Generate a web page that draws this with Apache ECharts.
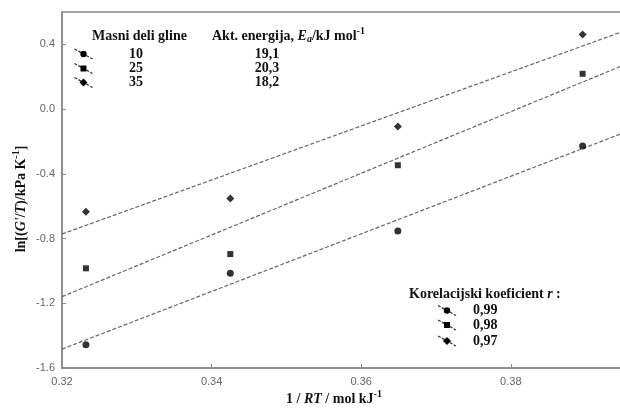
<!DOCTYPE html>
<html>
<head>
<meta charset="utf-8">
<script src="https://cdn.jsdelivr.net/npm/echarts@6/dist/echarts.min.js"></script>
<style>
html, body { margin: 0; padding: 0; background: #fff; }
#main { width: 620px; height: 412px; }
</style>
</head>
<body>
<div id="main"></div>
<script>
// 1/RT values of the four measurements
var xVals = [0.3232, 0.3425, 0.3649, 0.3896];
// ln[(G'/T)] for each clay mass fraction
var y10 = [-1.457, -1.015, -0.754, -0.228];
var y25 = [-0.984, -0.896, -0.347, 0.218];
var y35 = [-0.635, -0.552, -0.107, 0.461];
// fitted lines, read at both ends of the axis
var fitX = [0.32, 0.395];
var fit10 = [-1.483, -0.148];
var fit25 = [-1.159, 0.270];
var fit35 = [-0.772, 0.480];
// legend texts
var masses = ['10', '25', '35'];
var energies = ['19,1', '20,3', '18,2'];
var rValues = ['0,99', '0,98', '0,97'];

var chart = echarts.init(document.getElementById('main'));

function pairs(xs, ys) {
    return xs.map(function (x, i) { return [x, ys[i]]; });
}

var serif = 'Liberation Serif';
var symbols = ['circle', 'rect', 'diamond'];
var sizes = [7, 6, 8];

function fitLine(data) {
    return {
        type: 'line',
        data: pairs(fitX, data),
        symbol: 'none',
        silent: true,
        lineStyle: { color: '#666', width: 1.2, type: [4, 2] },
        z: 1
    };
}

function dots(data, i) {
    return {
        type: 'scatter',
        data: pairs(xVals, data),
        symbol: symbols[i],
        symbolSize: sizes[i],
        itemStyle: { color: '#000' },
        z: 3
    };
}

// legend marker: short dashed diagonal line with the symbol on it
function marker(cx, cy, i) {
    var els = [{
        type: 'line',
        shape: { x1: cx - 9, y1: cy - 5, x2: cx + 9, y2: cy + 5 },
        style: { stroke: '#333', lineWidth: 1.3, lineDash: [3, 1.5] }
    }];
    if (i === 0) {
        els.push({ type: 'circle', shape: { cx: cx, cy: cy, r: 3.2 }, style: { fill: '#000' } });
    } else if (i === 1) {
        els.push({ type: 'rect', shape: { x: cx - 3, y: cy - 3, width: 6, height: 6 }, style: { fill: '#000' } });
    } else {
        els.push({ type: 'polygon', shape: { points: [[cx, cy - 4], [cx + 4, cy], [cx, cy + 4], [cx - 4, cy]] }, style: { fill: '#000' } });
    }
    return els;
}

var richText = {
    n: { fontFamily: serif, fontWeight: 'bold', fontSize: 14, color: '#111' },
    i: { fontFamily: serif, fontWeight: 'bold', fontStyle: 'italic', fontSize: 14, color: '#111' },
    sub: { fontFamily: serif, fontWeight: 'bold', fontStyle: 'italic', fontSize: 10, color: '#111', padding: [7, 0, 0, 0] },
    s: { fontFamily: serif, fontWeight: 'bold', fontSize: 10, color: '#111', padding: [0, 0, 9, 0] }
};

function label(x, y, text, align, rot) {
    return {
        type: 'text',
        x: x, y: y,
        rotation: rot || 0,
        style: {
            text: text,
            font: 'bold 14px "' + serif + '"',
            fill: '#111',
            align: align || 'left',
            verticalAlign: 'middle',
            rich: richText
        }
    };
}

var graphics = [];
graphics.push(label(92, 36, 'Masni deli gline'));
graphics.push(label(212, 36, '{n|Akt. energija, }{i|E}{sub|a}{n|/kJ mol}{s|-1}'));
var rowsY = [54, 68.5, 82.5];
masses.forEach(function (m, i) {
    graphics = graphics.concat(marker(83.5, rowsY[i], i));
    graphics.push(label(136, rowsY[i], m, 'center'));
    graphics.push(label(267, rowsY[i], energies[i], 'center'));
});
graphics.push(label(409, 294, '{n|Korelacijski koeficient }{i|r}{n| :}'));
var rowsY2 = [310.5, 325, 341];
rValues.forEach(function (r, i) {
    graphics = graphics.concat(marker(447, rowsY2[i], i));
    graphics.push(label(473, rowsY2[i], r));
});
// axis titles
graphics.push(label(334, 399, '{n|1 / }{i|RT}{n| / mol kJ}{s|-1}', 'center'));
graphics.push(label(21, 199, '{n|ln[(}{i|G\'}{n|/}{i|T}{n|)/kPa K}{s|-1}{n|]}', 'center', Math.PI / 2));

var option = {
    backgroundColor: '#fff',
    animation: false,
    grid: {
        left: 62, right: -3, top: 12, bottom: 44,
        outerBoundsMode: 'none',
        show: true, borderColor: '#888', borderWidth: 1.5
    },
    xAxis: {
        type: 'value',
        min: 0.32, max: 0.395, interval: 0.02,
        axisLine: { onZero: false, lineStyle: { color: '#888', width: 1.5 } },
        axisTick: { inside: true, length: 4, lineStyle: { color: '#888' } },
        axisLabel: {
            showMaxLabel: false,
            margin: 8,
            color: '#666', fontFamily: 'Liberation Sans', fontSize: 11,
            formatter: function (v) { return v.toFixed(2); }
        },
        splitLine: { show: false }
    },
    yAxis: {
        type: 'value',
        min: -1.6, max: 0.6, interval: 0.4,
        axisLine: { onZero: false, lineStyle: { color: '#888', width: 1.5 } },
        axisTick: { inside: true, length: 4, lineStyle: { color: '#888' } },
        axisLabel: {
            showMaxLabel: false,
            margin: 7,
            color: '#666', fontFamily: 'Liberation Sans', fontSize: 11,
            formatter: function (v) { return v.toFixed(1); }
        },
        splitLine: { show: false }
    },
    series: [
        fitLine(fit10), fitLine(fit25), fitLine(fit35),
        dots(y10, 0), dots(y25, 1), dots(y35, 2)
    ],
    graphic: graphics
};

chart.setOption(option);
</script>
</body>
</html>
